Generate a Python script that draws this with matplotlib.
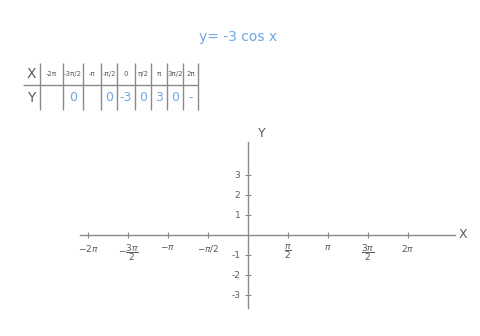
import numpy as np
import matplotlib
matplotlib.use("Agg")
import matplotlib.pyplot as plt

title = "y= -3 cos x"

# table values (as written on the board)
table_x = ["-2π", "-3π/2", "-π", "-π/2", "0", "π/2", "π", "3π/2", "2π"]
table_y = ["", "0", "", "0", "-3", "0", "3", "0", "-"]

# axes ticks: multiples of pi/2 and integer y values
x_steps = [-4, -3, -2, -1, 1, 2, 3, 4]
x_labels = [r"$-2\pi$", r"$-\dfrac{3\pi}{2}$", r"$-\pi$", r"$-\pi/2$",
            r"$\dfrac{\pi}{2}$", r"$\pi$", r"$\dfrac{3\pi}{2}$", r"$2\pi$"]
y_ticks = [-3, -2, -1, 1, 2, 3]

gray = "#8a8a8a"
ink = "#5a5a5a"
blue = "#6fa6e6"

W, H = 480, 336
fig = plt.figure(figsize=(4.8, 3.36), dpi=100)
fig.patch.set_facecolor("white")

# title
fig.text(238 / W, 1 - 37 / H, title, color=blue, fontsize=10,
         ha="center", va="center")

# table of values
tax = fig.add_axes([0, 0, 1, 1])
tax.axis("off")
cell_text = [["X"] + table_x, ["Y"] + table_y]
widths = [17, 23, 20, 18, 16, 18, 16, 16, 16, 15]
row_h = [22, 25]
tb = tax.table(cellText=cell_text, colWidths=widths, cellLoc="center",
               bbox=[23 / W, 1 - 110 / H, 175 / W, 47 / H], edges="open")
tb.auto_set_font_size(False)
for (r, c), cell in tb.get_celld().items():
    cell.set_height(row_h[r])
    cell.set_edgecolor(gray)
    cell.set_linewidth(1.0)
    cell.visible_edges = "BR" if r == 0 else "R"
    txt = cell.get_text()
    if c == 0:
        txt.set_fontsize(10)
        txt.set_color(ink)
    elif r == 0:
        txt.set_fontsize(5)
        txt.set_color(ink)
    else:
        txt.set_fontsize(9)
        txt.set_color(blue)

# coordinate axes
ax = fig.add_axes([80 / W, 28 / H, 375 / W, 166 / H])
ax.set_facecolor("none")
ax.set_xlim(-4.2 * np.pi / 2, 5.175 * np.pi / 2)
ax.set_ylim(-3.65, 4.65)
for side in ["top", "right"]:
    ax.spines[side].set_visible(False)
for side in ["left", "bottom"]:
    ax.spines[side].set_position("zero")
    ax.spines[side].set_color(gray)
    ax.spines[side].set_linewidth(1.0)

ax.set_xticks([k * np.pi / 2 for k in x_steps])
ax.set_xticklabels(x_labels)
ax.set_yticks(y_ticks)
ax.set_yticklabels([str(v) for v in y_ticks])
ax.tick_params(axis="both", direction="inout", length=5, width=0.8,
               color=gray, labelcolor=ink, labelsize=6.5)
ax.tick_params(axis="x", pad=3)
ax.tick_params(axis="y", pad=3)

ax.text(1.01, 0.44, "X", transform=ax.transAxes, color=ink, fontsize=9,
        ha="left", va="center")
ax.text(0.485, 1.01, "Y", transform=ax.transAxes, color=ink, fontsize=9,
        ha="center", va="bottom")

fig.savefig("out.png", dpi=100)
